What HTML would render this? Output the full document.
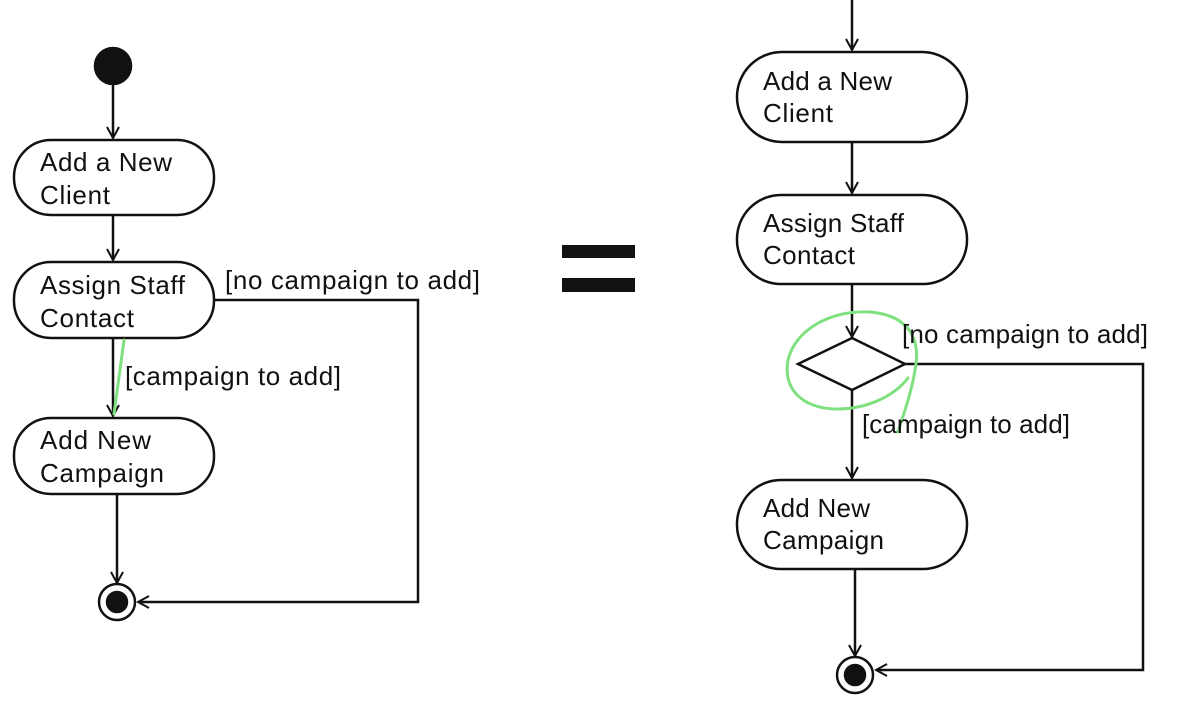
<!DOCTYPE html>
<html><head><style>
html,body{margin:0;padding:0;background:#fff;}
svg text{font-family:"Liberation Sans",Arial,sans-serif;font-size:26px;fill:#111;}
</style></head><body>
<svg width="1194" height="714" viewBox="0 0 1194 714" xmlns="http://www.w3.org/2000/svg">
<defs>
<marker id="a" markerWidth="14" markerHeight="14" refX="12" refY="7" orient="auto" markerUnits="userSpaceOnUse">
<path d="M1,1 L12,7 L1,13" fill="none" stroke="#111" stroke-width="2"/>
</marker>
</defs>
<g stroke="#111" stroke-width="2.5" fill="none">
<circle cx="113" cy="66" r="18" fill="#111"/>
<line x1="113" y1="84" x2="113" y2="138" marker-end="url(#a)"/>
<rect x="14" y="140" width="200" height="75" rx="37" fill="#fff"/>
<line x1="113" y1="215" x2="113" y2="260" marker-end="url(#a)"/>
<rect x="14" y="262" width="200" height="76" rx="37" fill="#fff"/>
<line x1="113" y1="338" x2="113" y2="416" marker-end="url(#a)"/>
<rect x="14" y="418" width="200" height="76" rx="37" fill="#fff"/>
<line x1="117" y1="494" x2="117" y2="583" marker-end="url(#a)"/>
<circle cx="117" cy="602" r="18" fill="#fff"/>
<circle cx="117" cy="602" r="10" fill="#111"/>
<polyline points="214,300 418,300 418,602 138,602" marker-end="url(#a)"/>
<line x1="852" y1="0" x2="852" y2="50" marker-end="url(#a)"/>
<rect x="737" y="52" width="230" height="90" rx="45" fill="#fff"/>
<line x1="852" y1="142" x2="852" y2="193" marker-end="url(#a)"/>
<rect x="737" y="195" width="230" height="89" rx="44" fill="#fff"/>
<line x1="852" y1="284" x2="852" y2="337" marker-end="url(#a)"/>
<polygon points="798,364 852,338 905,364 852,390" fill="#fff"/>
<line x1="852" y1="390" x2="852" y2="478" marker-end="url(#a)"/>
<rect x="737" y="480" width="230" height="89" rx="44" fill="#fff"/>
<line x1="855" y1="569" x2="855" y2="656" marker-end="url(#a)"/>
<circle cx="855" cy="675" r="18" fill="#fff"/>
<circle cx="855" cy="675" r="10" fill="#111"/>
<polyline points="905,364 1143,364 1143,670 876,670" marker-end="url(#a)"/>
</g>
<rect x="562" y="245" width="73" height="13" fill="#111"/>
<rect x="562" y="278" width="73" height="14" fill="#111"/>
<g stroke="#7fe07f" stroke-width="3" fill="none" stroke-linecap="round">
<line x1="124" y1="340" x2="114" y2="414"/>
<path d="M898,432 C905,410 912,390 915,370 C922,335 905,315 870,312 C830,310 795,330 788,360 C782,395 810,410 840,409 C870,408 895,395 908,378"/>
</g>
<text x="40" y="171" textLength="132">Add a New</text>
<text x="40" y="204" textLength="70">Client</text>
<text x="40" y="294" textLength="145">Assign Staff</text>
<text x="40" y="327" textLength="94">Contact</text>
<text x="40" y="449" textLength="111">Add New</text>
<text x="40" y="482" textLength="124">Campaign</text>
<text x="225" y="289" textLength="255">[no campaign to add]</text>
<text x="125" y="385" textLength="216">[campaign to add]</text>
<text x="763" y="90" textLength="129">Add a New</text>
<text x="763" y="122" textLength="70">Client</text>
<text x="763" y="232" textLength="141">Assign Staff</text>
<text x="763" y="264" textLength="92">Contact</text>
<text x="763" y="517" textLength="107">Add New</text>
<text x="763" y="549" textLength="121">Campaign</text>
<text x="902" y="343" textLength="246">[no campaign to add]</text>
<text x="862" y="433" textLength="208">[campaign to add]</text>
</svg>
</body></html>
